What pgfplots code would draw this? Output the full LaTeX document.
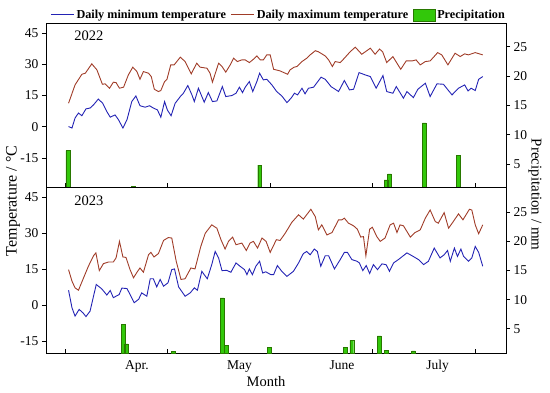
\documentclass[border=0pt]{standalone}
\usepackage{fontspec}
\setmainfont{Liberation Serif}
\usepackage{pgfplots}
\pgfplotsset{compat=1.18}
\definecolor{tmin}{RGB}{35,35,180}
\definecolor{tmax}{RGB}{160,60,40}
\definecolor{pfill}{RGB}{50,200,10}
\definecolor{pdraw}{RGB}{40,120,0}
\pgfplotsset{
  base/.style={width=460pt, scale only axis, xmin=-5.6, xmax=129,
    /pgf/number format/assume math mode=true,
    tick label style={font=\fontsize{13.5}{15}\selectfont},
    axis line style={line width=0.8pt}, tick style={line width=0.8pt, black},
    major tick length=4pt, tick align=outside,
    xtick={0,30,60,90,120}, xticklabels={}},
  tempax/.style={base, ytick={-15,0,15,30,45}, ytick pos=left, xtick pos=bottom,
    every major x tick/.append style={yshift=4pt}},
  precax/.style={base, hide x axis, ytick={5,10,15,20,25}, ytick pos=right},
  minl/.style={tmin, line width=0.9pt},
  maxl/.style={tmax, line width=0.9pt},
  bars/.style={ybar, bar width=1.1, fill=pfill, draw=pdraw, line width=0.4pt},
}
\begin{document}
\begin{tikzpicture}
\path[use as bounding box] (-46pt,-205pt) rectangle (504pt,187pt);
% ---------- 2022 ----------
\begin{axis}[tempax, at={(0,0)}, anchor=south west, height=164pt, ymin=-28.9, ymax=49.8,
  legend style={draw=none, fill=none, at={(1,1)}, anchor=south east, xshift=4pt, yshift=-1pt,
    font=\fontsize{12.2}{14}\selectfont\bfseries, legend columns=-1,
    /tikz/every even column/.append style={column sep=2.5pt},
    nodes={inner xsep=2pt}}]
\addplot[maxl, forget plot] coordinates {(1.0,11.3)(2.9,20.1)(4.9,25.2)(5.9,25.7)(7.8,30.2)(9.3,27.3)(10.9,20.4)(11.7,20.6)(13.0,18.5)(14.1,21.4)(14.9,21.2)(15.9,18.5)(17.1,19.0)(18.5,24.9)(19.8,28.6)(21.0,26.5)(21.9,22.8)(22.9,26.5)(24.4,25.7)(25.2,24.1)(26.1,18.0)(27.3,16.9)(28.0,17.4)(29.1,21.7)(29.8,22.8)(30.9,29.7)(31.9,29.7)(33.7,33.4)(35.1,31.3)(36.9,25.4)(38.5,30.5)(39.5,28.6)(41.5,28.1)(42.4,25.7)(43.1,21.4)(44.9,30.5)(45.9,28.9)(47.0,26.2)(48.3,29.7)(49.3,32.9)(50.4,31.3)(51.7,32.1)(52.7,32.1)(53.9,30.8)(55.1,32.4)(56.1,34.0)(57.1,32.1)(58.0,32.1)(59.0,34.5)(60.0,34.5)(61.0,27.6)(62.9,26.8)(65.1,25.2)(65.8,27.3)(67.0,28.6)(67.8,28.9)(69.3,31.3)(70.7,32.9)(71.7,34.5)(73.2,36.5)(74.1,36.0)(76.1,34.0)(77.1,32.1)(78.2,28.9)(79.0,31.3)(80.5,30.8)(81.7,32.9)(83.4,36.0)(84.9,38.2)(86.8,34.8)(89.3,37.7)(90.7,34.8)(92.0,37.3)(92.9,36.0)(94.1,30.8)(95.9,33.7)(97.1,30.5)(98.2,27.6)(99.8,31.6)(101.5,31.6)(102.7,32.1)(103.9,29.7)(105.4,31.3)(106.8,31.6)(107.8,33.4)(109.0,35.6)(110.2,34.5)(112.0,29.7)(114.1,35.3)(115.6,33.7)(116.9,35.0)(118.0,34.5)(120.0,35.6)(122.2,34.5)};
\addplot[minl, forget plot] coordinates {(1.0,0.1)(2.0,-0.6)(2.9,4.2)(3.9,6.6)(4.9,5.3)(6.1,8.6)(7.3,9.0)(8.3,10.5)(9.7,13.3)(11.0,11.3)(12.2,7.3)(13.2,4.6)(14.6,5.7)(15.6,3.4)(16.9,-0.6)(18.1,3.4)(19.5,12.1)(20.7,14.8)(21.9,10.1)(23.4,9.4)(24.7,10.1)(25.8,9.0)(27.0,8.1)(28.0,4.6)(29.1,12.1)(29.9,8.1)(31.0,5.3)(32.2,11.3)(33.7,14.5)(34.6,16.1)(35.9,19.8)(37.1,15.3)(37.8,12.1)(39.0,18.5)(40.7,11.8)(41.9,16.4)(43.1,12.1)(44.4,12.4)(46.0,19.3)(47.0,14.5)(48.8,15.0)(50.0,16.1)(51.0,19.0)(51.9,16.4)(52.7,19.0)(53.9,21.7)(54.9,16.9)(56.1,21.7)(56.9,25.7)(58.0,22.5)(59.0,22.8)(60.5,20.1)(61.9,16.9)(63.4,14.8)(64.9,11.6)(66.1,13.7)(67.1,16.1)(68.0,15.3)(69.3,18.5)(70.2,15.8)(71.2,18.5)(72.7,19.0)(74.9,23.8)(76.1,22.8)(77.8,19.3)(80.0,16.9)(81.7,22.2)(83.2,17.7)(84.4,18.0)(86.0,26.0)(87.8,24.9)(89.3,24.1)(91.0,18.5)(93.0,24.6)(94.1,16.9)(95.9,16.1)(96.9,19.3)(99.0,13.7)(100.0,16.9)(101.9,14.0)(103.2,18.0)(105.4,20.9)(106.8,14.5)(108.8,20.6)(110.7,20.4)(113.2,15.3)(115.1,18.5)(116.9,20.1)(117.9,17.2)(118.8,18.5)(120.0,17.4)(121.0,22.8)(122.2,24.1)};
\addlegendimage{legend image code/.code={\draw[draw=tmin, line width=1.2pt] (0pt,0pt) -- (23pt,0pt);}}
\addlegendentry{Daily minimum temperature}
\addlegendimage{legend image code/.code={\draw[draw=tmax, line width=1.2pt] (0pt,0pt) -- (23pt,0pt);}}
\addlegendentry{Daily maximum temperature}
\addlegendimage{legend image code/.code={\draw[fill=pfill, draw=pdraw] (0pt,-6pt) rectangle (22pt,6pt);}}
\addlegendentry{Precipitation}
\node[font=\fontsize{14.5}{16}\selectfont] at (rel axis cs:0.093,0.922) {2022};
\end{axis}
\begin{axis}[precax, at={(0,0)}, anchor=south west, height=164pt, ymin=1.08, ymax=29.04]
\addplot[bars] coordinates {(0.8,7.3)(20,1.2)(56.9,4.8)(93.9,2.3)(94.9,3.3)(105.1,12.0)(115.1,6.5)};
\end{axis}
% ---------- 2023 ----------
\begin{axis}[tempax, at={(0,0)}, anchor=north west, height=166pt, ymin=-20, ymax=49.3,
  extra x ticks={21,51,81,109}, extra x tick labels={Apr.,May,June,July},
  extra x tick style={tick style={draw=none}}]
\addplot[maxl] coordinates {(1.0,14.8)(2.0,10.0)(2.9,7.2)(3.9,6.2)(5.4,11.4)(6.8,16.2)(8.3,20.6)(9.0,21.8)(10.0,14.4)(11.2,17.3)(12.7,18.0)(14.1,18.0)(14.9,19.7)(15.9,26.6)(16.9,20.1)(17.8,19.9)(19.0,14.8)(20.0,11.4)(21.2,14.1)(21.9,15.5)(22.9,13.7)(24.4,21.0)(25.1,22.0)(26.0,20.1)(27.3,21.5)(28.8,27.0)(30.2,28.2)(31.2,28.0)(32.5,18.3)(33.9,10.7)(35.1,11.0)(36.8,15.5)(38.0,15.1)(39.7,24.5)(41.0,30.0)(42.9,33.5)(44.4,32.1)(45.6,27.3)(46.8,23.4)(47.8,26.6)(49.0,28.4)(50.0,25.2)(51.7,25.9)(53.0,22.8)(54.1,25.9)(55.1,26.6)(56.3,23.8)(57.6,28.0)(58.8,26.6)(60.0,22.0)(61.8,27.3)(62.9,27.0)(64.4,30.0)(66.3,34.5)(68.3,37.7)(69.7,35.9)(71.9,40.0)(73.2,36.9)(74.1,31.4)(75.1,33.5)(76.6,29.3)(78.1,30.3)(80.0,35.6)(81.0,35.6)(81.7,36.3)(82.9,34.2)(84.4,33.1)(85.5,31.7)(86.5,28.4)(87.3,28.6)(88.0,20.6)(89.1,31.7)(89.9,32.5)(91.2,28.6)(92.2,26.6)(93.6,28.0)(95.1,33.5)(96.1,34.2)(97.1,30.3)(98.0,33.5)(99.0,33.1)(101.0,28.4)(102.4,30.3)(103.9,31.4)(105.4,36.3)(106.8,39.7)(108.3,34.9)(109.2,34.2)(110.9,38.6)(112.2,32.1)(113.6,34.9)(115.1,38.1)(116.4,35.6)(118.3,40.0)(119.0,39.7)(120.0,33.5)(121.0,29.8)(122.2,33.5)};
\addplot[minl] coordinates {(1.0,6.2)(2.0,-1.1)(2.9,-4.6)(4.1,-1.8)(5.2,-3.2)(6.1,-4.8)(7.3,-2.5)(9.1,8.6)(10.7,6.8)(12.2,4.2)(13.2,6.1)(14.1,3.1)(15.8,4.4)(16.6,7.1)(18.1,6.9)(19.0,4.4)(20.2,1.0)(21.5,2.4)(22.4,5.1)(23.9,3.7)(24.9,11.0)(25.8,11.0)(26.8,7.6)(27.8,10.7)(28.8,7.9)(30.1,9.3)(31.2,14.8)(32.0,15.1)(33.2,7.6)(35.1,3.7)(36.6,5.1)(37.8,7.2)(38.7,6.2)(40.0,14.1)(40.7,12.7)(41.6,11.0)(42.9,16.9)(43.9,22.4)(44.9,19.7)(45.9,14.4)(47.3,14.5)(48.5,13.7)(50.0,17.6)(51.2,16.2)(52.5,14.8)(53.2,12.7)(53.9,15.1)(54.8,12.7)(55.8,16.2)(56.9,18.3)(57.8,13.4)(58.7,13.9)(60.2,12.7)(61.0,12.7)(62.1,16.5)(63.4,14.1)(64.9,12.0)(66.8,14.1)(68.3,17.6)(69.7,21.5)(70.7,22.4)(71.7,21.0)(72.9,23.4)(73.8,22.4)(74.8,16.2)(76.1,20.6)(77.1,20.6)(78.8,15.1)(80.5,19.0)(81.7,22.0)(82.6,22.0)(83.9,19.0)(85.4,18.3)(86.1,17.6)(87.1,14.4)(88.1,16.5)(89.1,13.2)(90.2,16.9)(91.4,14.8)(92.7,17.2)(93.9,16.9)(94.9,14.1)(96.1,17.6)(97.8,19.3)(100.0,21.8)(101.5,20.6)(103.4,19.0)(104.9,16.9)(106.3,18.3)(108.0,23.8)(109.7,19.7)(110.9,21.0)(111.9,22.8)(112.7,18.3)(113.9,23.8)(114.8,20.3)(115.8,23.4)(116.6,20.3)(118.0,18.3)(119.0,19.7)(120.0,24.5)(121.0,22.0)(122.2,16.2)};
\node[font=\fontsize{14.5}{16}\selectfont] at (rel axis cs:0.093,0.918) {2023};
\end{axis}
\begin{axis}[precax, at={(0,0)}, anchor=north west, height=166pt, ymin=0.84, ymax=29.34]
\addplot[bars] coordinates {(16.9,5.8)(17.9,2.4)(31.7,1.1)(45.9,10.3)(47.1,2.1)(59.8,1.8)(81.9,1.8)(83.9,3.0)(91.9,3.8)(93.9,1.3)(101.9,1.2)};
\end{axis}
% ---------- axis titles ----------
\node[rotate=90, font=\fontsize{16}{18}\selectfont] at (-33pt,-14pt) {Temperature / °C};
\node[rotate=-90, font=\fontsize{15}{17}\selectfont] at (489pt,-7.5pt) {Precipitation / mm};
\node[font=\fontsize{14.5}{16}\selectfont] at (220pt,-194.7pt) {Month};
\end{tikzpicture}
\end{document}
